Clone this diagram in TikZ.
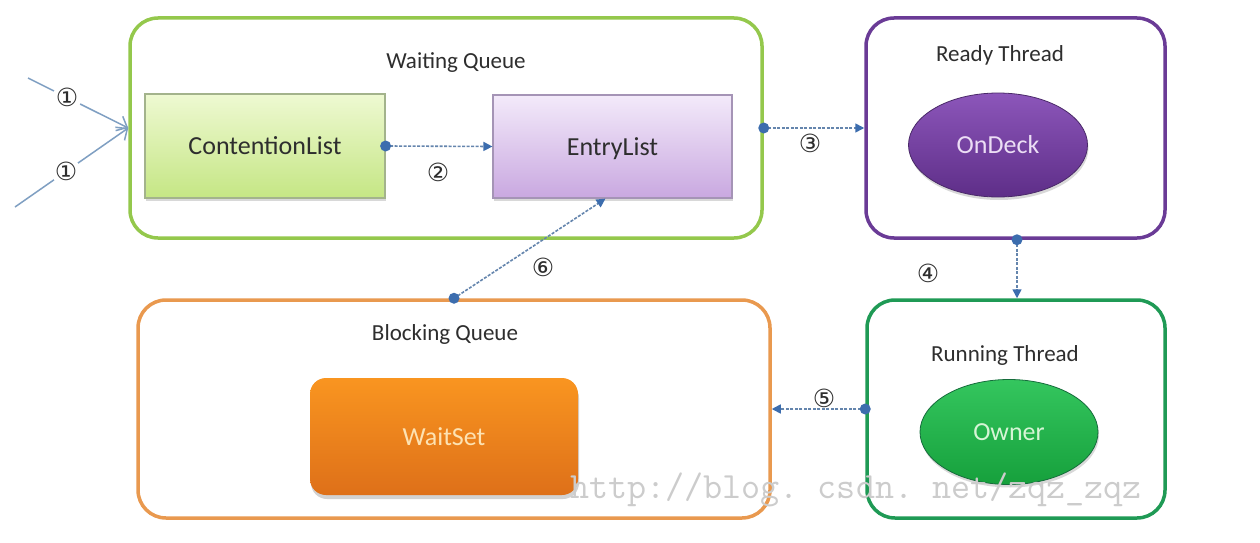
\documentclass[tikz,border=0pt]{standalone}
\usepackage{fontspec}
\setmainfont{Carlito}
\newfontfamily\circfont{DejaVu Sans}
\usetikzlibrary{arrows.meta,shadows,shapes.geometric,calc}
\definecolor{wqgreen}{HTML}{94C84C}
\definecolor{rtpurple}{HTML}{6A3B96}
\definecolor{rungreen}{HTML}{1F9A55}
\definecolor{bqorange}{HTML}{E9994F}
\definecolor{connc}{HTML}{6485AD}
\definecolor{dotblue}{HTML}{3C6DAE}
\definecolor{txt}{HTML}{2E2E2E}
\definecolor{inarrow}{HTML}{7F9FC2}
\definecolor{clborder}{HTML}{A3B38C}
\definecolor{cltop}{HTML}{EEF9D2}
\definecolor{clbot}{HTML}{C5E684}
\definecolor{elborder}{HTML}{A594B6}
\definecolor{eltop}{HTML}{F3EAFA}
\definecolor{elbot}{HTML}{C9A8E0}
\definecolor{odtop}{HTML}{8C56BA}
\definecolor{odbot}{HTML}{5E2E88}
\definecolor{odtext}{HTML}{ECDEF5}
\definecolor{owtop}{HTML}{34C65E}
\definecolor{owbot}{HTML}{16A03C}
\definecolor{owtext}{HTML}{D6F5D6}
\definecolor{wstop}{HTML}{F99520}
\definecolor{wsbot}{HTML}{DE7019}
\definecolor{wstext}{HTML}{FDE2B2}
\begin{document}
\begin{tikzpicture}[x=1pt,y=-1pt,
  container/.style={draw, line width=3.5pt, rounded corners=28pt, inner sep=0pt},
  boxtitle/.style={text=txt, font=\fontsize{23}{26}\selectfont, inner sep=0pt, anchor=base},
  boxtext/.style={font=\fontsize{26}{28}\selectfont, text height=17pt, text depth=0pt, inner sep=0pt},
  listbox/.style={boxtext, rectangle, line width=1.2pt, text=txt,
    drop shadow={shadow xshift=1pt, shadow yshift=-3pt, opacity=0.3}},
  blob/.style={boxtext, ellipse, inner sep=0pt, draw=#1!70!black, line width=0.8pt,
    drop shadow={shadow xshift=1pt, shadow yshift=-3pt, opacity=0.3}},
  conn/.style={draw=connc, line width=1.6pt, dash pattern=on 3pt off 1.5pt,
    -{Triangle[length=9pt,width=9pt,fill=dotblue,color=dotblue]}},
  dot/.style={fill=dotblue},
  num/.style={font=\circfont\fontsize{25}{25}\selectfont, text=txt, inner sep=0pt},
  inarr/.style={draw=inarrow, line width=1.5pt, -{Straight Barb[length=9pt,width=16pt,line width=1.5pt]}},
]
\fill[white] (0,0) rectangle (1260,543);
\useasboundingbox (0,0) rectangle (1260,543);

% containers
\node[container, draw=wqgreen, minimum width=632pt, minimum height=220pt] (wq) at (446,128) {};
\node[container, draw=rtpurple, minimum width=299pt, minimum height=220pt] (rt) at (1015.5,128) {};
\node[container, draw=rungreen, minimum width=298pt, minimum height=218pt] (run) at (1016,409) {};
\node[container, draw=bqorange, minimum width=632pt, minimum height=218pt] (bq) at (454,409) {};

% titles
\node[boxtitle] (wqt) at (456,68) {Waiting Queue};
\node[boxtitle] (rtt) at (1000,62) {Ready Thread};
\node[boxtitle] (runt) at (1005,361) {Running Thread};
\node[boxtitle] (bqt) at (445,340) {Blocking Queue};

% inner boxes
\node[listbox, draw=clborder, top color=cltop, bottom color=clbot,
  minimum width=240pt, minimum height=104pt] (cl) at (265,146) {ContentionList};
\node[listbox, draw=elborder, top color=eltop, bottom color=elbot,
  minimum width=239pt, minimum height=103pt] (el) at (612.5,146.5) {EntryList};
\node[blob=rtpurple, top color=odtop, bottom color=odbot,
  text=odtext, minimum width=179pt, minimum height=104pt] (od) at (998,145) {OnDeck};
\node[blob=rungreen, top color=owtop, bottom color=owbot,
  text=owtext, minimum width=178pt, minimum height=105pt] (ow) at (1009,432) {Owner};
\node[boxtext, rectangle, rounded corners=16pt, top color=wstop, bottom color=wsbot,
  text=wstext, minimum width=268pt, minimum height=117pt,
  drop shadow={shadow xshift=1pt, shadow yshift=-4pt, opacity=0.35}] (ws) at (444,436.5) {WaitSet};

% incoming arrows (1)
\coordinate (in1) at (28,78);
\coordinate (in2) at (15,207);
\draw[inarr] (in1) -- node[pos=0.39, num, fill=white, circle, inner sep=0pt] (n1a) {①} (wq.west);
\draw[inarr] (in2) -- node[pos=0.45, num, fill=white, circle, inner sep=0pt] (n1b) {①} (wq.west);

% dotted connectors
\draw[conn] (cl.east) -- (el.west);
\fill[dot] (cl.east) circle[radius=5.5pt];
\node[num] (n2) at (438,172) {②};

\draw[conn] (wq.east) -- (rt.west);
\fill[dot] (wq.east) circle[radius=5.5pt];
\node[num] (n3) at (810,143) {③};

\draw[conn] ([xshift=1.5pt]rt.south) -- ([xshift=1.5pt]rt.south |- run.north);
\fill[dot] ([xshift=1.5pt]rt.south) circle[radius=5.5pt];
\node[num] (n4) at (928,273) {④};

\draw[conn] (run.west) -- (bq.east);
\fill[dot] (run.west) circle[radius=5.5pt];
\node[num] (n5) at (824,398) {⑤};

\draw[conn] (bq.north) -- ([xshift=-7pt]el.south);
\fill[dot] (bq.north) circle[radius=5.5pt];
\node[num] (n6) at (543,267) {⑥};

% watermark
\node[anchor=base west, inner sep=0pt, text=black!20, font=\ttfamily\fontsize{37}{37}\selectfont] (wm) at (570,498) {http://blog.~csdn.~net/zqz\_zqz};
\end{tikzpicture}
\end{document}
